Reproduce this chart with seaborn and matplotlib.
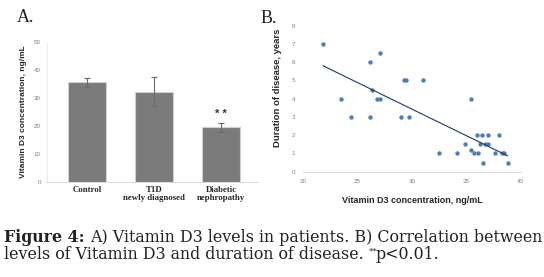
import numpy as np
import pandas as pd
import matplotlib
matplotlib.use('Agg')
import matplotlib.pyplot as plt
import seaborn as sns

# panel A: vitamin D3 levels per group
groups = ['Control', 'T1D\nnewly diagnosed', 'Diabetic\nnephropathy']
vitd_mean = [35.6, 32.3, 19.5]
vitd_err = [1.6, 5.2, 1.7]

# panel B: vitamin D3 vs duration of disease
vitd = [21.8, 27.05, 26.1, 29.3, 29.45, 31.0, 26.3, 23.5, 26.8, 27.05, 35.4,
        24.4, 26.1, 29.0, 29.7, 32.5, 34.1, 34.9, 35.4, 35.7, 36.1, 36.0,
        36.4, 36.3, 36.7, 37.0, 37.0, 36.5, 37.6, 38.0, 38.3, 38.5, 38.8]
duration = [7.0, 6.5, 6.0, 5.0, 5.0, 5.0, 4.5, 4.0, 4.0, 4.0, 4.0,
            3.0, 3.0, 3.0, 3.0, 1.0, 1.0, 1.5, 1.2, 1.0, 1.0, 2.0,
            2.0, 1.5, 1.5, 1.5, 2.0, 0.5, 1.0, 2.0, 1.0, 1.0, 0.5]

sns.set_theme(style='white')
plt.rcParams['font.family'] = ['Liberation Sans', 'DejaVu Sans']

fig = plt.figure(figsize=(5.44, 2.77), dpi=100)
W, H = 544, 277

def px_axes(l, t, r, b):
    return fig.add_axes([l / W, 1 - b / H, (r - l) / W, (b - t) / H])

# ---- A
axA = px_axes(46.5, 42.3, 258, 181.7)
dfA = pd.DataFrame({'group': groups, 'vitd': vitd_mean})
sns.barplot(data=dfA, x='group', y='vitd', color='#7b7b7b', width=0.57,
            edgecolor='#d0d0d0', linewidth=0.8, saturation=1, ax=axA)
axA.errorbar(range(len(groups)), vitd_mean, yerr=vitd_err, fmt='none',
             ecolor='#6a6a6a', elinewidth=0.8, capsize=2, capthick=0.8)
axA.set_ylim(0, 50)
axA.set_xlim(-0.6, 2.55)
axA.set_yticks(range(0, 51, 10))
axA.tick_params(axis='y', labelsize=4.5, labelcolor='#808080', length=0, pad=4)
axA.tick_params(axis='x', length=0, pad=3)
for lab in axA.get_xticklabels():
    lab.set_family('Liberation Serif')
    lab.set_fontweight('bold')
    lab.set_fontsize(6.3)
    lab.set_linespacing(1.0)
axA.set_xlabel('')
axA.set_ylabel('Vitamin D3 concentration, ng/mL', fontsize=6.0, fontweight='bold',
               labelpad=5)
for s in ['top', 'right']:
    axA.spines[s].set_visible(False)
axA.spines['left'].set_color('#e6e6e6')
axA.spines['bottom'].set_color('#d4d4d4')
axA.spines['left'].set_linewidth(0.6)
axA.spines['bottom'].set_linewidth(0.6)
axA.text(2, vitd_mean[2] + vitd_err[2] + 1.2, '* *', ha='center', va='bottom',
         fontsize=8, fontweight='bold', color='#333333')

# ---- B
axB = px_axes(303.3, 25.7, 520.7, 171.7)
dfB = pd.DataFrame({'vitd': vitd, 'duration': duration})
sns.regplot(data=dfB, x='vitd', y='duration', ci=None, ax=axB, truncate=True,
            scatter_kws={'s': 10, 'color': '#4a7ebb', 'linewidths': 0, 'alpha': 1},
            line_kws={'color': '#1f3a60', 'linewidth': 0.8})
axB.set_xlim(20, 40)
axB.set_ylim(0, 8)
axB.set_xticks(range(20, 41, 5))
axB.set_yticks(range(0, 9))
axB.tick_params(labelsize=4.5, labelcolor='#808080', length=0)
axB.tick_params(axis='x', pad=5)
axB.tick_params(axis='y', pad=6)
axB.set_xlabel('Vitamin D3 concentration, ng/mL', fontsize=6.5, fontweight='bold',
               labelpad=9)
axB.set_ylabel('Duration of disease, years', fontsize=6.8, fontweight='bold')
axB.yaxis.set_label_coords(-0.098, 0.577)
for s in ['top', 'right', 'left']:
    axB.spines[s].set_visible(False)
axB.spines['bottom'].set_color('#d4d4d4')
axB.spines['bottom'].set_linewidth(0.6)

# panel letters
fig.text(17 / W, 1 - 22 / H, 'A.', family='Liberation Serif', fontsize=13, color='#222222')
fig.text(261 / W, 1 - 23 / H, 'B.', family='Liberation Serif', fontsize=13, color='#222222')

# caption, laid out piece by piece; first line sized to span the figure width
fig.canvas.draw()
rend = fig.canvas.get_renderer()
cap_col = '#222222'
cap_font = 'DejaVu Serif'

def put(x, y, s, fs, **kw):
    t = fig.text(x / W, 1 - y / H, s, family=cap_font, color=cap_col,
                 va='baseline', fontsize=fs, **kw)
    bb = t.get_window_extent(renderer=rend)
    return t, x + bb.width

line1a = 'Figure 4:'
line1b = 'A) Vitamin D3 levels in patients. B) Correlation between'
t1, xa = put(4, 242, line1a, 11, fontweight='bold')
t2, xb = put(xa + 5, 242, line1b, 11)
scale = (540 - 4 - 5) / (xb - 4 - 5)
t1.remove()
t2.remove()
cap_fs = 11 * scale

_, xa = put(4, 242, line1a, cap_fs, fontweight='bold')
put(xa + 5, 242, line1b, cap_fs)
_, x = put(4, 259, 'levels of Vitamin D3 and duration of disease.', cap_fs)
fig.text((x + 5) / W, 1 - 254 / H, '**', family=cap_font, color=cap_col,
         fontsize=6, va='baseline')
put(x + 12, 259, 'p<0.01.', cap_fs)

fig.savefig('out.png', dpi=100)
